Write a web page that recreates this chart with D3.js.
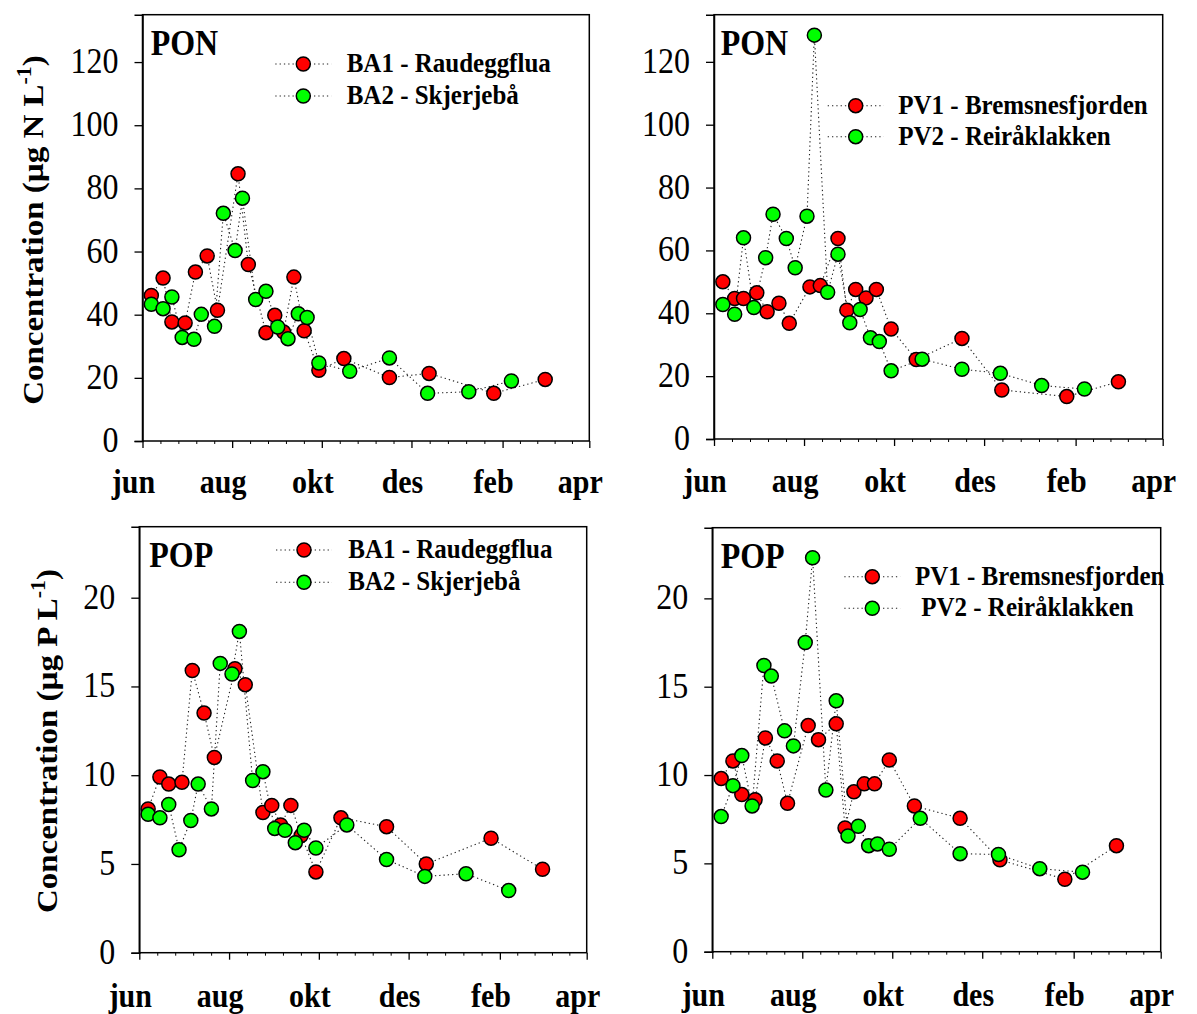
<!DOCTYPE html>
<html><head><meta charset="utf-8">
<script src="https://cdn.jsdelivr.net/npm/d3@7"></script>
<style>
html,body{margin:0;padding:0;background:#fff;}
text{font-family:"Liberation Serif","Times New Roman",serif;fill:#000;}
</style></head>
<body><svg id="chart" width="1197" height="1014"></svg>
<script>
// ---------- data ----------
const datesS1 = ["2010-06-07","2010-06-15","2010-06-21","2010-06-30","2010-07-07","2010-07-15","2010-07-22",
  "2010-08-05","2010-08-12","2010-08-24","2010-08-30","2010-09-05","2010-09-12","2010-09-19","2010-09-29",
  "2010-10-16","2010-11-16","2010-12-13","2011-01-26","2011-03-02"];
const datesS2 = ["2010-06-07","2010-06-15","2010-06-21","2010-06-28","2010-07-06","2010-07-11","2010-07-20",
  "2010-07-26","2010-08-03","2010-08-08","2010-08-17","2010-08-24","2010-09-01","2010-09-08","2010-09-15",
  "2010-09-21","2010-09-29","2010-10-20","2010-11-16","2010-12-12","2011-01-09","2011-02-07"];

const ponBA1 = [46.1,51.6,37.7,37.4,53.5,58.6,41.4,84.6,55.9,34.3,39.8,34.5,51.9,34.9,22.4,26.1,20.1,21.4,15.1,19.5];
const ponBA2 = [43.3,41.9,45.6,32.8,32.2,40.1,36.3,72.1,60.3,76.9,44.8,47.4,36.1,32.4,40.3,39.1,24.7,22.1,26.3,15.1,15.6,19.0];
const ponPV1 = [50.0,44.7,44.7,46.5,40.5,43.2,36.8,48.4,48.8,63.8,41.0,47.6,44.9,47.6,35.0,25.3,32.0,15.6,13.5,18.2];
const ponPV2 = [42.8,39.7,64.0,41.8,57.7,71.5,63.8,54.5,70.9,128.5,46.7,58.8,37.0,41.2,32.2,31.0,21.7,25.4,22.2,20.9,17.0,15.9];
const popBA1 = [8.1,9.9,9.5,9.6,15.9,13.5,11.0,16.0,15.1,7.9,8.3,7.2,8.3,6.6,4.55,7.6,7.1,5.0,6.45,4.7];
const popBA2 = [7.8,7.6,8.35,5.8,7.45,9.5,8.1,16.3,15.7,18.1,9.7,10.2,7.0,6.9,6.2,6.9,5.9,7.2,5.25,4.3,4.45,3.5];
const popPV1 = [9.8,10.8,8.9,8.6,12.1,10.8,8.4,12.8,12.0,12.9,7.0,9.05,9.5,9.5,10.85,8.25,7.55,5.2,4.1,6.0];
const popPV2 = [7.65,9.4,11.1,8.25,16.2,15.6,12.5,11.65,17.5,22.3,9.15,14.2,6.55,7.1,6.0,6.1,5.8,7.55,5.55,5.5,4.7,4.5];

const monthTicks  = ["2010-06-01","2010-08-01","2010-10-01","2010-12-01","2011-02-01","2011-04-01"];
const monthLabels = ["jun","aug","okt","des","feb","apr"];
const ponTicks = [0,20,40,60,80,100,120];
const popTicks = [0,5,10,15,20];
const baNames = ["BA1 - Raudeggflua","BA2 - Skjerjebå"];
const pvNames = ["PV1 - Bremsnesfjorden"," PV2 - Reiråklakken"];

// ---------- layout ----------
const parse = d3.timeParse("%Y-%m-%d");
const SY = 1.1; // vertical text stretch
const svg = d3.select("#chart");

const panels = [
  {box:{l:142.5,r:589.3,t:14.7,b:441}, ymax:135, ticks:ponTicks, title:"PON", tx:150.7, ty:55,
   s1:ponBA1, s2:ponBA2, names:baNames, leg:{x:303.3, y:[64,96], t:[346.7,346.7]},
   ylab:{unit:"N", x:43, y:230}, mdy:52},
  {box:{l:714,r:1162.7,t:14.7,b:439}, ymax:135, ticks:ponTicks, title:"PON", tx:720.7, ty:55,
   s1:ponPV1, s2:ponPV2, names:pvNames.map(s=>s.trim()), leg:{x:855.7, y:[105.7,136.7], t:[898.3,898.3]},
   ylab:null, mdy:53},
  {box:{l:139.3,r:586.7,t:526.7,b:952.7}, ymax:24, ticks:popTicks, title:"POP", tx:149.3, ty:566.7,
   s1:popBA1, s2:popBA2, names:baNames, leg:{x:304, y:[550,582.3], t:[348.3,348.3]},
   ylab:{unit:"P", x:57, y:741}, mdy:54},
  {box:{l:712.3,r:1160.7,t:527.7,b:951.7}, ymax:24, ticks:popTicks, title:"POP", tx:720.7, ty:567.7,
   s1:popPV1, s2:popPV2, names:pvNames, leg:{x:872.3, y:[576.7,608.3], t:[915,915]},
   ylab:null, mdy:54}
];

function stext(g, x, y, str, size, weight, anchor){
  return g.append("text")
    .attr("transform", `translate(${x},${y}) scale(1,${SY})`)
    .attr("font-size", size).attr("font-weight", weight||"normal")
    .attr("text-anchor", anchor||"start").text(str);
}

const colors = ["#ff0000","#00ff00"];
const lineStyle = {stroke:"#222", width:1.1, dash:"1.3,3"};

panels.forEach(p => {
  const g = svg.append("g");
  const x = d3.scaleTime().domain([parse(monthTicks[0]), parse(monthTicks[monthTicks.length-1])]).range([p.box.l, p.box.r]);
  const y = d3.scaleLinear().domain([0, p.ymax]).range([p.box.b, p.box.t]);

  // frame
  g.append("rect").attr("x",p.box.l).attr("y",p.box.t).attr("width",p.box.r-p.box.l).attr("height",p.box.b-p.box.t)
    .attr("fill","none").attr("stroke","#000").attr("stroke-width",1.5);

  // y axis
  const ya = g.append("g").attr("transform",`translate(${p.box.l},0)`)
    .call(d3.axisLeft(y).tickValues(p.ticks).tickSize(8).tickFormat(""));
  ya.select(".domain").attr("stroke-width",1.5);
  ya.selectAll(".tick line").attr("stroke-width",1.3);
  p.ticks.forEach(t => stext(g, p.box.l-24, y(t)+11, String(t), 32, "normal", "end"));

  // x axis major + minor
  const majors = monthTicks.map(parse);
  const xa = g.append("g").attr("transform",`translate(0,${p.box.b})`)
    .call(d3.axisBottom(x).tickValues(majors).tickSize(7).tickFormat(""));
  xa.select(".domain").remove();
  xa.selectAll(".tick line").attr("stroke-width",1.3);
  const minors = [];
  for(let i=0;i<majors.length-1;i++){
    const a=+majors[i], b=+majors[i+1];
    for(let k=1;k<5;k++) minors.push(new Date(a+(b-a)*k/5));
  }
  g.append("g").attr("transform",`translate(0,${p.box.b})`)
    .call(d3.axisBottom(x).tickValues(minors).tickSize(3).tickFormat(""))
    .call(s=>s.select(".domain").remove());
  majors.forEach((d,i)=> stext(g, x(d)-9, p.box.b+p.mdy, monthLabels[i], 30, "bold", "middle"));

  // title
  stext(g, p.tx, p.ty, p.title, 32, "bold", "start");

  // y label
  if(p.ylab){
    const t = g.append("text")
      .attr("transform",`translate(${p.ylab.x},${p.ylab.y}) scale(1,${SY}) rotate(-90)`)
      .attr("font-size",30).attr("font-weight","bold").attr("text-anchor","middle");
    t.append("tspan").text(`Concentration (µg ${p.ylab.unit} L`);
    t.append("tspan").attr("font-size",20).attr("dy",-12).text("-1");
    t.append("tspan").attr("dy",12).text(")");
  }

  // series
  const series = [
    {dates:datesS1.map(parse), vals:p.s1, color:colors[0]},
    {dates:datesS2.map(parse), vals:p.s2, color:colors[1]}
  ];
  const line = d3.line().x(d=>x(d[0])).y(d=>y(d[1]));
  series.forEach(s=>{
    g.append("path").datum(s.dates.map((d,i)=>[d,s.vals[i]]))
      .attr("d",line).attr("fill","none").attr("stroke",lineStyle.stroke)
      .attr("stroke-width",lineStyle.width).attr("stroke-dasharray",lineStyle.dash);
  });
  series.forEach(s=>{
    g.selectAll(null).data(s.dates.map((d,i)=>[d,s.vals[i]])).enter().append("circle")
      .attr("cx",d=>x(d[0])).attr("cy",d=>y(d[1])).attr("r",7)
      .attr("fill",s.color).attr("stroke","#000").attr("stroke-width",1.5);
  });

  // legend
  p.names.forEach((nm,i)=>{
    const ly = p.leg.y[i];
    g.append("line").attr("x1",p.leg.x-28).attr("x2",p.leg.x+28).attr("y1",ly).attr("y2",ly)
      .attr("stroke",lineStyle.stroke).attr("stroke-width",lineStyle.width).attr("stroke-dasharray",lineStyle.dash);
    g.append("circle").attr("cx",p.leg.x).attr("cy",ly).attr("r",7)
      .attr("fill",colors[i]).attr("stroke","#000").attr("stroke-width",1.5);
    stext(g, p.leg.t[i], ly+8, nm, 25, "bold", "start").attr("xml:space","preserve").style("white-space","pre");
  });
});
</script></body></html>
